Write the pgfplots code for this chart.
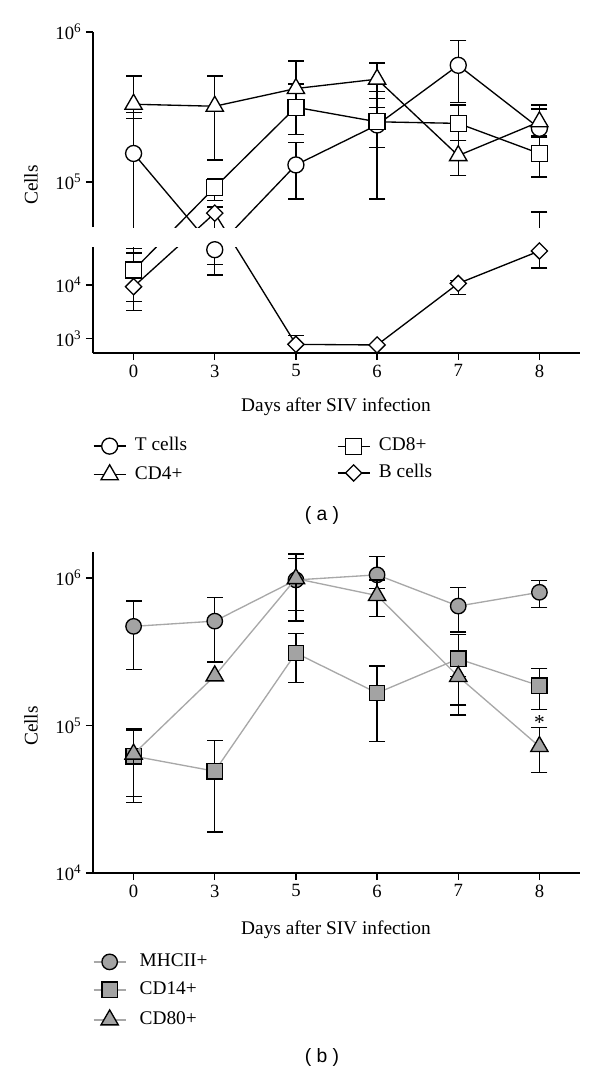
\documentclass[border=0pt]{standalone}
\usepackage{fontspec}
\setmainfont{Liberation Serif}
\newfontfamily\sansf{Liberation Sans}
\usepackage{pgfplots}
\usepackage{pgfplotstable}
\pgfplotsset{compat=1.18}

\definecolor{mfill}{HTML}{A3A3A3}
\definecolor{bline}{HTML}{A8A8A8}

% ---------- panel (a) data: x index (0,3,5,6,7,8 days), cells ----------
\pgfplotstableread{
x y
0 155000
1 46000
2 130000
3 240000
4 600000
5 228000
}\Tcells
\pgfplotstableread{
x y
0 330000
1 320000
2 420000
3 485000
4 150000
5 252000
}\CDfour
\pgfplotstableread{
x y
0 19000
1 92000
2 315000
3 252000
4 246000
5 155000
}\CDeight
\pgfplotstableread{
x y
0 9300
1 62000
2 770
3 750
4 10700
5 43500
}\Bcells
% error bars (low / high), separated by nan rows
\pgfplotstableread{
x y
0 4900
0 290000
nan nan
1 15500
1 46000
nan nan
2 77000
2 184000
nan nan
3 77000
3 400000
nan nan
4 338000
4 875000
nan nan
5 200000
5 306000
}\Terr
\pgfplotstableread{
x y
0 266000
0 510000
nan nan
1 140000
1 510000
nan nan
2 350000
2 640000
nan nan
3 313000
3 620000
nan nan
4 110000
4 190000
nan nan
5 203000
5 327000
}\CDfourerr
\pgfplotstableread{
x y
0 14000
0 49000
nan nan
1 75000
1 105000
nan nan
2 208000
2 450000
nan nan
3 170000
3 360000
nan nan
4 190000
4 326000
nan nan
5 108000
5 200000
}\CDeighterr
\pgfplotstableread{
x y
0 3300
0 40000
nan nan
1 24500
1 68000
nan nan
2 770
2 1120
nan nan
4 6700
4 12000
nan nan
5 21000
5 63000
}\Berr

% ---------- panel (b) data ----------
\pgfplotstableread{
x y
0 470000
1 510000
2 970000
3 1050000
4 645000
5 800000
}\MHC
\pgfplotstableread{
x y
0 62000
1 49000
2 310000
3 166000
4 283000
5 186000
}\CDft
\pgfplotstableread{
x y
0 64000
1 217000
2 990000
3 760000
4 215000
5 72000
}\CDeighty
\pgfplotstableread{
x y
0 240000
0 700000
nan nan
1 270000
1 740000
nan nan
2 600000
2 1360000
nan nan
3 850000
3 1400000
nan nan
4 429000
4 860000
nan nan
5 630000
5 960000
}\MHCerr
\pgfplotstableread{
x y
0 33000
0 93000
nan nan
1 19000
1 79000
nan nan
2 195000
2 420000
nan nan
3 78000
3 254000
nan nan
4 138000
4 415000
nan nan
5 128000
5 243000
}\CDfterr
\pgfplotstableread{
x y
0 30000
0 95000
nan nan
2 510000
2 1450000
nan nan
3 550000
3 970000
nan nan
4 118000
4 215000
nan nan
5 48000
5 97000
}\CDeightyerr

\pgfplotsset{
  common/.style={
    scale only axis, width=365.25pt,
    xmin=-0.5, xmax=5.5,
    axis y line*=left,
    tick align=outside, major tick length=5.25pt,
    axis line style={line width=1pt, black},
    every tick/.style={line width=1pt, black},
    tick label style={font=\fontsize{14}{16}\selectfont},
    xtick={0,1,2,3,4,5}, xticklabels={0,3,5,6,7,8},
    unbounded coords=jump,
    clip mode=individual,
    legend cell align=left,
    legend image code/.code={\draw[mark repeat=2,mark phase=2,##1] plot coordinates {(0pt,0pt) (12pt,0pt) (24pt,0pt)};},
    legend style={draw=none, fill=none, inner sep=0pt, outer sep=0pt,
      row sep=8pt, column sep=6.5pt, font=\fontsize{14.5}{16}\selectfont,
      nodes={inner sep=0pt, text height=9.5pt, text depth=2.5pt}},
  },
  panelA/.style={common,
    y filter/.expression={y<50000 ? 14.7+(ln(y)*0.4342945-3)*53.3 : 171+(ln(y)*0.4342945-5)*150},
  },
  aT/.style={black, line width=1pt, mark=*, mark size=6pt, mark options={fill=white, solid, line width=1pt}},
  aCDfour/.style={black, line width=1pt, mark=triangle*, mark size=7.5pt, mark options={fill=white, solid, line width=1pt}},
  aCDeight/.style={black, line width=1pt, mark=square*, mark size=6pt, mark options={fill=white, solid, line width=1pt}},
  aB/.style={black, line width=1pt, mark=square*, mark size=4.3pt, mark options={fill=white, solid, line width=1pt, rotate=45}},
  err/.style={black, line width=1pt, mark=-, mark size=6pt, forget plot, mark options={solid, line width=1pt}},
  bM/.style={bline, line width=1pt, mark=*, mark size=5.8pt, mark options={fill=mfill, draw=black, solid, line width=1pt}},
  bCDft/.style={bline, line width=1pt, mark=square*, mark size=5.8pt, mark options={fill=mfill, draw=black, solid, line width=1pt}},
  bCDeighty/.style={bline, line width=1pt, mark=triangle*, mark size=7.5pt, mark options={fill=mfill, draw=black, solid, line width=1pt}},
  berr/.style={black, line width=1.1pt, mark=-, mark size=6pt, forget plot, mark options={solid, line width=1.1pt}},
}

\begin{document}
\begin{tikzpicture}
\path[use as bounding box] (0pt,0pt) rectangle (450pt,-807pt);

% ===== panel (a), upper part =====
\begin{axis}[panelA, at={(69.75pt,-170.25pt)}, anchor=south west,
  height=146.25pt, ymin=126, ymax=321, axis x line=none,
  ytick={171,321}, yticklabels={10\textsuperscript{5},10\textsuperscript{6}},
  legend style={at={(axis description cs:0.501,-1.083)}, anchor=north west}]
\addplot[err] table {\Terr};
\addplot[err] table {\CDfourerr};
\addplot[err] table {\CDeighterr};
\addplot[err] table {\Berr};
\addplot[aT, forget plot] table {\Tcells};
\addplot[aCDfour, forget plot] table {\CDfour};
\addplot[aCDeight] table {\CDeight};
\addlegendentry{CD8+}
\addplot[aB] table {\Bcells};
\addlegendentry{B cells}
\end{axis}

% ===== panel (a), lower part =====
\begin{axis}[panelA, at={(69.75pt,-264.75pt)}, anchor=south west,
  height=79.5pt, ymin=0, ymax=106, axis x line*=bottom,
  ytick={14.7,68}, yticklabels={10\textsuperscript{3},10\textsuperscript{4}},
  legend style={at={(axis description cs:0,-0.803)}, anchor=north west}]
\addplot[err] table {\Terr};
\addplot[err] table {\CDfourerr};
\addplot[err] table {\CDeighterr};
\addplot[err] table {\Berr};
\addplot[aCDeight, forget plot] table {\CDeight};
\addplot[aB, forget plot] table {\Bcells};
\addplot[aT] table {\Tcells};
\addlegendentry{T cells}
\addplot[aCDfour] table {\CDfour};
\addlegendentry{CD4+}
\end{axis}

\node[rotate=90, font=\fontsize{14.5}{16}\selectfont] at (23.25pt,-138.75pt) {Cells};
\node[font=\fontsize{14.5}{16}\selectfont] at (252pt,-305.25pt) {Days after SIV infection};
\node[font=\sansf\fontsize{14.5}{16}\selectfont] at (241.5pt,-386.25pt) {( a )};

% ===== panel (b) =====
\begin{axis}[common, at={(69.75pt,-654.75pt)}, anchor=south west,
  height=240.75pt, ymode=log, ymin=10000, ymax=1500000,
  axis x line*=bottom, yminorticks=false,
  ytick={10000,100000,1000000},
  yticklabels={10\textsuperscript{4},10\textsuperscript{5},10\textsuperscript{6}},
  legend style={at={(axis description cs:0,-0.252)}, anchor=north west, column sep=10pt, row sep=9pt}]
\addplot[berr] table {\MHCerr};
\addplot[bM] table {\MHC};
\addlegendentry{MHCII+}
\addplot[berr] table {\CDfterr};
\addplot[bCDft] table {\CDft};
\addlegendentry{CD14+}
\addplot[berr] table {\CDeightyerr};
\addplot[bCDeighty] table {\CDeighty};
\addlegendentry{CD80+}
\node[font=\fontsize{16}{16}\selectfont] at (axis cs:5,104000) {*};
\end{axis}

\node[rotate=90, font=\fontsize{14.5}{16}\selectfont] at (23.25pt,-544.5pt) {Cells};
\node[font=\fontsize{14.5}{16}\selectfont] at (252pt,-697.5pt) {Days after SIV infection};
\node[font=\sansf\fontsize{14.5}{16}\selectfont] at (241.5pt,-792.75pt) {( b )};
\end{tikzpicture}
\end{document}
